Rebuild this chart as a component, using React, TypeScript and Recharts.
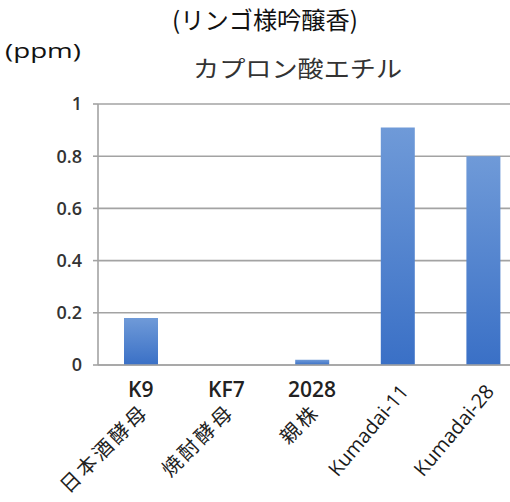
import React from 'react';
import { BarChart, Bar, XAxis, YAxis, CartesianGrid } from 'recharts';

// Ethyl caproate content per yeast strain (ppm)
const strains = ['K9', 'KF7', '2028', 'Kumadai-11', 'Kumadai-28'];
const strainGroups = ['日本酒酵母', '焼酎酵母', '親株', '', ''];
const ethylCaproate = [0.18, 0, 0.02, 0.91, 0.8];
const yTicks = [0, 0.2, 0.4, 0.6, 0.8, 1];

const data = strains.map((name, i) => ({
  name,
  group: strainGroups[i],
  value: ethylCaproate[i],
}));

const GRID = '#a3a3a3';
const LATIN = '"Open Sans", "Liberation Sans", sans-serif';
const CJK = '"Noto Sans CJK JP", "Noto Sans", sans-serif';

function StrainTick(props: any) {
  const { x, y, payload, index } = props;
  const name: string = payload.value;
  const group = strainGroups[index] || '';
  if (!group) {
    const px = x + 12;
    const py = y + 27;
    return (
      <text
        x={px}
        y={py}
        transform={`rotate(-50 ${px} ${py})`}
        textAnchor="end"
        fontFamily={LATIN}
        fontSize={20}
        fill="#1a1a1a"
      >
        {name}
      </text>
    );
  }
  const gx = x + 9;
  const gy = y + 48;
  return (
    <g>
      <text
        x={x}
        y={y + 32}
        textAnchor="middle"
        fontFamily={LATIN}
        fontSize={21}
        fontWeight={600}
        fill="#222"
      >
        {name}
      </text>
      <text
        x={gx}
        y={gy}
        transform={`rotate(-45 ${gx} ${gy})`}
        textAnchor="end"
        fontFamily={CJK}
        fontSize={20}
        letterSpacing={3}
        fill="#222"
      >
        {group}
      </text>
    </g>
  );
}

export default function App() {
  return (
    <div
      style={{
        position: 'absolute',
        left: 0,
        top: 0,
        width: 510,
        height: 502,
        overflow: 'hidden',
        background: '#fff',
      }}
    >
      <BarChart
        width={526}
        height={502}
        data={data}
        margin={{ top: 104, right: 0, bottom: 0, left: 0 }}
        barSize={34}
      >
        <defs>
          <linearGradient id="barFill" x1="0" y1="0" x2="0" y2="1">
            <stop offset="0%" stopColor="#6f9ad8" />
            <stop offset="100%" stopColor="#3a70c6" />
          </linearGradient>
        </defs>
        <CartesianGrid horizontal vertical={false} stroke={GRID} strokeWidth={1.6} />
        <XAxis
          dataKey="name"
          height={137}
          tickLine={false}
          tickSize={0}
          tickMargin={0}
          axisLine={{ stroke: GRID, strokeWidth: 1.6 }}
          tick={<StrainTick />}
          interval={0}
        />
        <YAxis
          width={98}
          domain={[0, 1]}
          ticks={yTicks}
          tickSize={5}
          tickMargin={11}
          tickLine={{ stroke: GRID, strokeWidth: 1.6 }}
          axisLine={{ stroke: GRID, strokeWidth: 1.6 }}
          tick={{ fontFamily: LATIN, fontSize: 18, fontWeight: 600, fill: '#333' }}
        />
        <Bar dataKey="value" fill="url(#barFill)" isAnimationActive={false} />
      </BarChart>
      <svg
        width={510}
        height={100}
        style={{ position: 'absolute', left: 0, top: 0, pointerEvents: 'none' }}
      >
        <text
          x={172}
          y={29}
          textLength={186}
          lengthAdjust="spacingAndGlyphs"
          fontFamily={CJK}
          fontSize={24}
          fill="#111"
        >
          (リンゴ様吟醸香)
        </text>
        <text
          x={5}
          y={58}
          textLength={76}
          lengthAdjust="spacingAndGlyphs"
          fontFamily={LATIN}
          fontSize={20}
          fill="#111"
        >
          (ppm)
        </text>
        <text
          x={193}
          y={77}
          textLength={209}
          lengthAdjust="spacingAndGlyphs"
          fontFamily={CJK}
          fontSize={23}
          fill="#333"
        >
          カプロン酸エチル
        </text>
      </svg>
    </div>
  );
}
